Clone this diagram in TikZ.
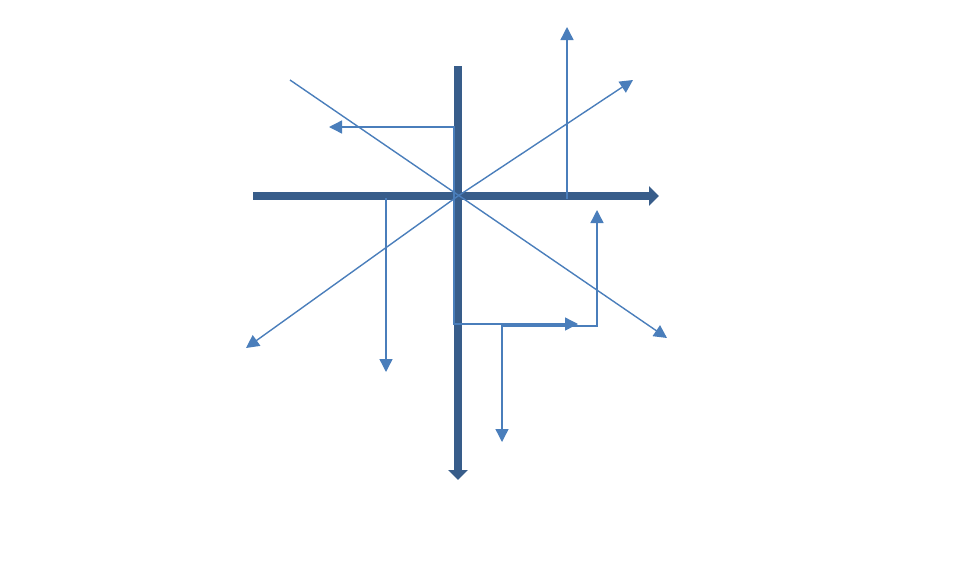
\documentclass[tikz,border=0pt]{standalone}
\usetikzlibrary{arrows.meta}
\definecolor{axisblue}{HTML}{385D8A}
\definecolor{thinblue}{HTML}{4A7EBB}
\begin{document}
\begin{tikzpicture}[x=1pt,y=-1pt,
  axisline/.style={draw=axisblue,line width=8.5pt,-{Triangle[length=10pt,width=19pt]}},
  thinline/.style={draw=thinblue,line width=1.4pt},
  thinarrow/.style={thinline,-{Triangle[length=13pt,width=13pt]}},
  thinboth/.style={thinline,{Triangle[length=13pt,width=13pt]}-{Triangle[length=13pt,width=13pt]}}]
\useasboundingbox (0,0) rectangle (960,560);
% coordinates
\coordinate (c) at (458,196);
\coordinate (hl) at (253,196);
\coordinate (hr) at (659,196);
\coordinate (vt) at (458,66);
\coordinate (vb) at (458,480);
\coordinate (dA) at (290,80);
\coordinate (dAend) at (667,338);
\coordinate (dB) at (633,80);
\coordinate (dC) at (246,348);
\coordinate (e1s) at (454,325);
\coordinate (e1m) at (454,127);
\coordinate (e1e) at (329,127);
\coordinate (e2s) at (386,198);
\coordinate (e2e) at (386,372);
\coordinate (e3s) at (567,199);
\coordinate (e3e) at (567,27);
\coordinate (e4s) at (454,324);
\coordinate (e4e) at (578,324);
\coordinate (e5a) at (502,442);
\coordinate (e5m1) at (502,326);
\coordinate (e5m2) at (597,326);
\coordinate (e5b) at (597,210);
% thick axes
\draw[axisline] (hl) -- (hr);
\draw[axisline] (vt) -- (vb);
% thin elbows and arrows
\draw[thinarrow] (e1s) -- (e1m) -- (e1e);
\draw[thinarrow] (e2s) -- (e2e);
\draw[thinarrow] (e3s) -- (e3e);
\draw[thinarrow] (e4s) -- (e4e);
\draw[thinboth] (e5a) -- (e5m1) -- (e5m2) -- (e5b);
% diagonals
\draw[thinarrow] (dA) -- (dAend);
\draw[thinarrow] (c) -- (dB);
\draw[thinarrow] (c) -- (dC);
\end{tikzpicture}
\end{document}
